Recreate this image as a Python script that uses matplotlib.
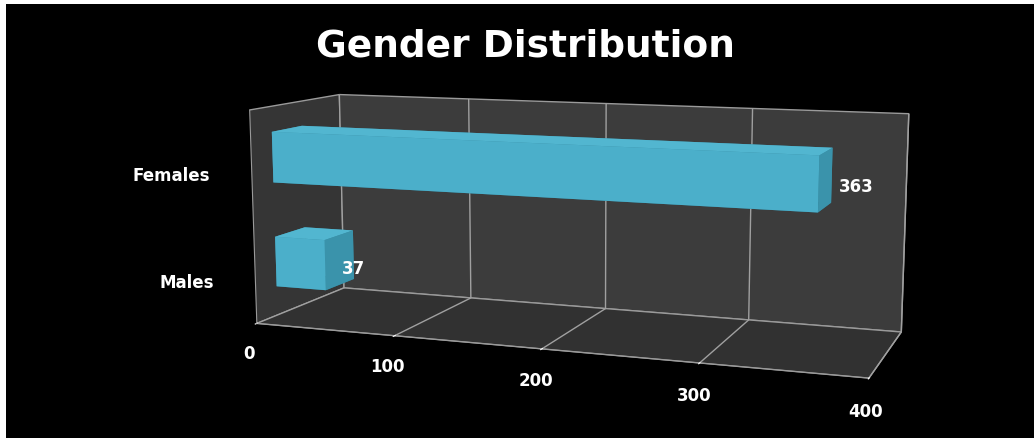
import matplotlib
matplotlib.use("Agg")
import matplotlib.pyplot as plt
from matplotlib.patches import Rectangle
import numpy as np

categories = ["Males", "Females"]
values = [37, 363]
xticks = [0, 100, 200, 300, 400]

W, H = 1034, 442
fig = plt.figure(figsize=(W / 100, H / 100), dpi=100)
fig.patch.set_facecolor("white")
fig.patches.append(Rectangle((6 / W, 4 / H), 1 - 6 / W, 1 - 8 / H,
                             transform=fig.transFigure, facecolor="black",
                             edgecolor="none", zorder=-10))

ax = fig.add_axes([0.05, -0.075, 1.0, 1.12], projection="3d")
ax.set_facecolor((0, 0, 0, 0))
ax.set_proj_type("persp", focal_length=0.6)
ax.view_init(elev=9.5, azim=-70)
ax.set_box_aspect((6.0, 1.8, 2.1), zoom=1.35)

face_colors = []
for _ in values:
    # -z, +z, -y, +y, -x, +x
    face_colors += ["#2f7d92", "#52b6d0", "#4bafca", "#3a8ea5", "#3f9bb3", "#3a93ab"]
zpos = np.arange(len(categories)) + 0.28
bars = ax.bar3d(np.zeros(len(values)), np.full(len(values), 0.22), zpos,
                values, np.full(len(values), 0.33), np.full(len(values), 0.48),
                color=face_colors, shade=False, edgecolor="none")
bars.set_clip_on(False)
ax.set_xlim(0, 400)
ax.set_ylim(0, 1)
ax.set_zlim(0, 2)

for v, z in zip(values, zpos):
    t = ax.text(v + 12, 0.22, z + 0.22, str(v), color="white", fontsize=12,
                fontweight="bold", va="center", ha="left")
    t.set_clip_on(False)

# panes
ax.xaxis.set_pane_color("#353535")
ax.yaxis.set_pane_color("#3c3c3c")
ax.zaxis.set_pane_color("#313131")
for a in (ax.xaxis, ax.yaxis, ax.zaxis):
    a.pane.set_edgecolor("#9a9a9a")
    a.pane.set_linewidth(1.0)
    a.line.set_color("#9a9a9a")
    a.label.set_visible(False)
    a.get_offset_text().set_visible(False)
ax.xaxis._axinfo["grid"].update(color="#a0a0a0", linewidth=1.0)
ax.yaxis._axinfo["grid"].update(color=(0, 0, 0, 0))
ax.zaxis._axinfo["grid"].update(color=(0, 0, 0, 0))

ax.set_xticks(xticks)
ax.set_xticklabels([str(t) for t in xticks])
ax.set_yticks([])
ax.set_zticks(np.arange(len(categories)) + 0.47)
ax.set_zticklabels(categories, ha="right")
ax.zaxis.set_ticks_position("lower")
ax.yaxis.line.set_color((0, 0, 0, 0))
for lab in ax.get_xticklabels() + ax.get_zticklabels():
    lab.set_color("white")
    lab.set_fontweight("bold")
    lab.set_fontsize(12)
ax.tick_params(axis="x", colors="white", pad=8)
ax.tick_params(axis="z", colors="white", pad=4)
ax.xaxis._axinfo["tick"].update(color="#9a9a9a")
ax.zaxis._axinfo["tick"]["inward_factor"] = 0
ax.zaxis._axinfo["tick"]["outward_factor"] = 0

fig.text(0.508, 0.895, "Gender Distribution", color="white", fontsize=27,
         fontweight="bold", ha="center", va="center")

fig.savefig("out.png", dpi=100, facecolor=fig.get_facecolor())
